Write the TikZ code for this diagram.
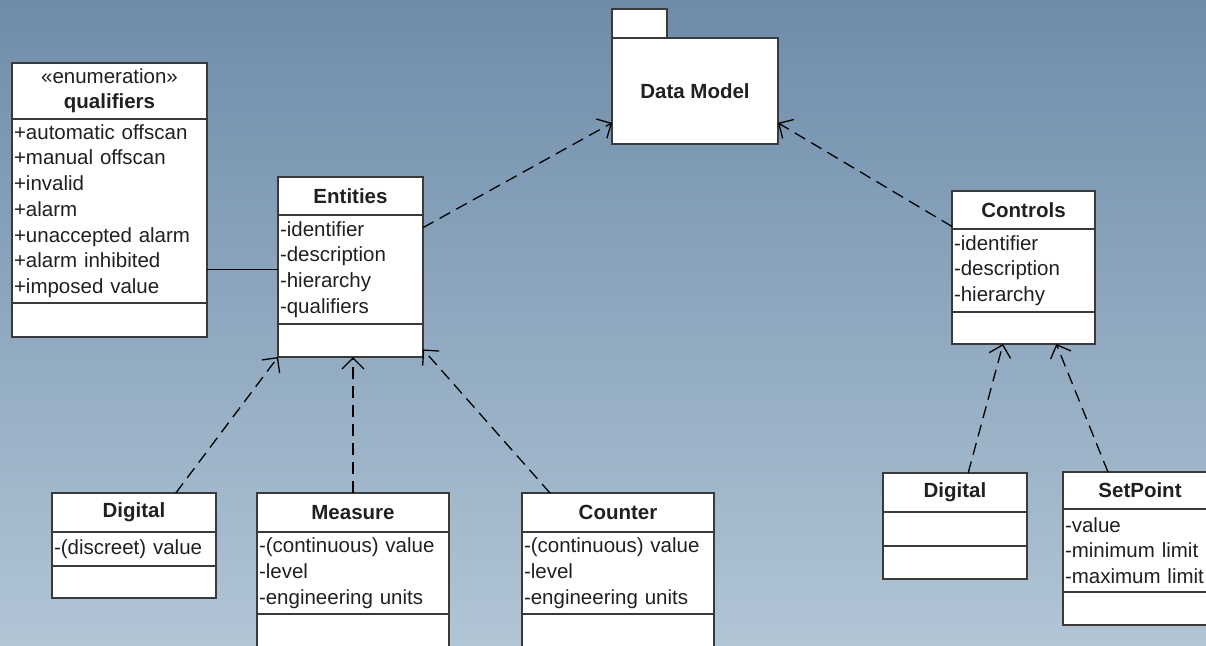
\documentclass[tikz,border=0pt]{standalone}
\usepackage{fontspec}
\setmainfont{Liberation Sans}
\usetikzlibrary{positioning}
\usetikzlibrary{arrows.meta}
\definecolor{boxline}{HTML}{3A3A3A}
\definecolor{bgtop}{HTML}{6E8CAA}
\definecolor{bgbottom}{HTML}{B1C5D5}
\definecolor{txt}{HTML}{202020}

\begin{document}
\begin{tikzpicture}[x=1pt, y=-1pt,
  head/.style={draw=boxline, fill=white, line width=1.6pt, outer sep=0pt, inner sep=0pt, minimum width=#1, align=center, font=\fontsize{20.5}{25}\selectfont\bfseries, text=txt},
  part/.style={draw=boxline, fill=white, line width=1.6pt, outer sep=0pt, inner xsep=2pt, inner ysep=0pt, text width=#1, align=left, font=\fontsize{20.5}{25.7}\selectfont, text=txt},
  pkg/.style={draw=boxline, fill=white, line width=1.6pt, outer sep=0pt, inner sep=0pt, font=\fontsize{20.5}{25}\selectfont\bfseries, text=txt},
  dep/.style={line width=1.3pt, dash pattern=on 12pt off 7pt, -{Straight Barb[length=11pt, width=22pt]}},
  assoc/.style={line width=1.3pt}
]
\useasboundingbox (0,0) rectangle (1206,645);
\clip (0,0) rectangle (1206,645);
\shade[top color=bgtop, bottom color=bgbottom] (0,0) rectangle (1206,645);

% package
\node[pkg, minimum width=166pt, minimum height=106pt, anchor=north west] (dm) at (612,38) {Data Model};
\node[pkg, minimum width=55pt, minimum height=29pt, anchor=south west] (dmtab) at (dm.north west) {};

% enumeration
\node[head=195pt, minimum height=56pt, anchor=north west] (qualT) at (12,63) {{\mdseries «enumeration»}\\qualifiers};
\node[part=191pt, minimum height=184pt, below=0pt of qualT] (qualA) {+automatic offscan\\+manual offscan\\+invalid\\+alarm\\+unaccepted alarm\\+alarm inhibited\\+imposed value};
\node[part=191pt, minimum height=34pt, below=0pt of qualA] (qualO) {};

% entities
\node[head=145pt, minimum height=38pt, anchor=north west] (entT) at (278,177) {Entities};
\node[part=141pt, minimum height=109pt, below=0pt of entT] (entA) {-identifier\\-description\\-hierarchy\\-qualifiers};
\node[part=141pt, minimum height=33pt, below=0pt of entA] (entO) {};

% controls
\node[head=143pt, minimum height=38pt, anchor=north west] (ctlT) at (952,191) {Controls};
\node[part=139pt, minimum height=83pt, below=0pt of ctlT] (ctlA) {-identifier\\-description\\-hierarchy};
\node[part=139pt, minimum height=32pt, below=0pt of ctlA] (ctlO) {};

% entity kinds
\node[head=164pt, minimum height=39pt, anchor=north west] (digLT) at (52,493) {Digital};
\node[part=160pt, minimum height=34pt, below=0pt of digLT] (digLA) {-(discreet) value};
\node[part=160pt, minimum height=32pt, below=0pt of digLA] (digLO) {};

\node[head=192pt, minimum height=39pt, anchor=north west] (measT) at (257,493) {Measure};
\node[part=188pt, minimum height=82pt, below=0pt of measT] (measA) {-(continuous) value\\-level\\-engineering units};
\node[part=188pt, minimum height=40pt, below=0pt of measA] (measO) {};

\node[head=192pt, minimum height=39pt, anchor=north west] (cntT) at (522,493) {Counter};
\node[part=188pt, minimum height=82pt, below=0pt of cntT] (cntA) {-(continuous) value\\-level\\-engineering units};
\node[part=188pt, minimum height=40pt, below=0pt of cntA] (cntO) {};

% control kinds
\node[head=144pt, minimum height=39pt, anchor=north west] (digRT) at (883,473) {Digital};
\node[part=140pt, minimum height=34pt, below=0pt of digRT] (digRA) {};
\node[part=140pt, minimum height=33pt, below=0pt of digRA] (digRO) {};

\node[head=154pt, minimum height=37pt, anchor=north west] (spT) at (1063,472) {SetPoint};
\node[part=150pt, minimum height=83pt, below=0pt of spT] (spA) {-value\\-minimum limit\\-maximum limit};
\node[part=150pt, minimum height=33pt, below=0pt of spA] (spO) {};

\draw[assoc] (qualA.east |- entA.west) -- (entA.west);
\draw[dep] (entA.30) -- (dm.201);
\draw[dep] (ctlT.193) -- (dm.-21);
\draw[dep] (digLT.25) -- (entO.south west);
\draw[dep] (measT.north) -- (measT.north |- entO.south);
\draw[dep] (cntT.164) -- (entO.-7);
\draw[dep] (digRT.56) -- (ctlO.218);
\draw[dep] (spT.150) -- (ctlO.-26);

\end{tikzpicture}
\end{document}
